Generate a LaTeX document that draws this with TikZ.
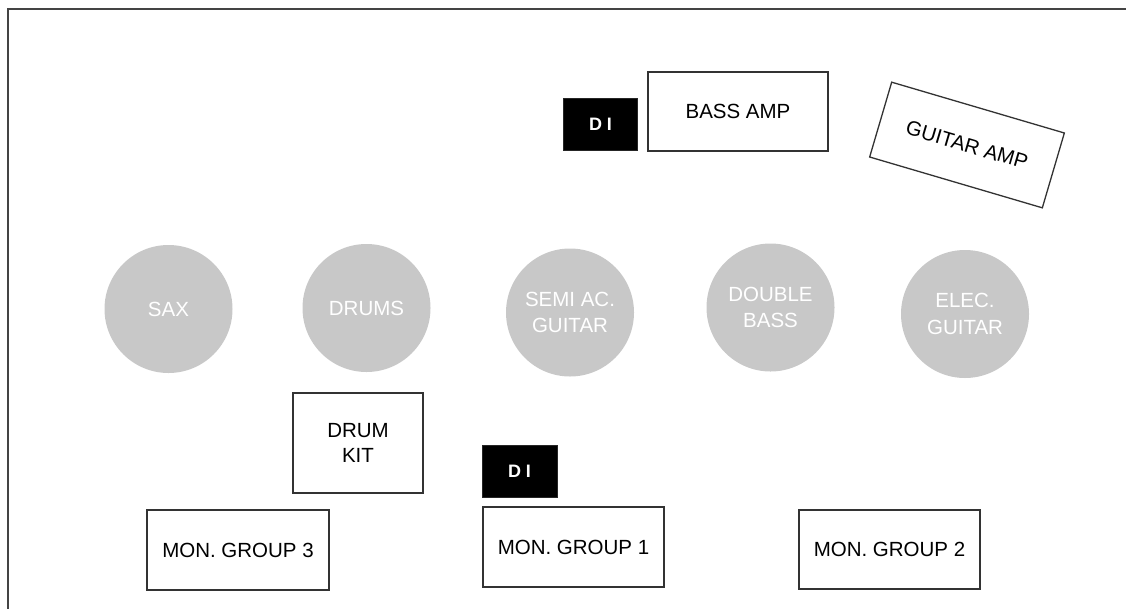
\documentclass[tikz,border=0pt]{standalone}
\usepackage{fontspec}
\setmainfont{Liberation Sans}
\definecolor{musician}{HTML}{C8C8C8}
\definecolor{edge}{HTML}{333333}
\definecolor{framegray}{HTML}{444444}
\tikzset{
  gear/.style={draw=edge, line width=1.3pt, fill=white, inner sep=0pt, align=center,
    font=\fontsize{20.5}{25.5}\selectfont},
  dibox/.style={fill=black, draw=black!85, line width=0.8pt, inner sep=0pt,
    minimum width=74pt, minimum height=52pt, text=white,
    font=\fontsize{18}{22}\selectfont\bfseries},
  player/.style={circle, fill=musician, minimum size=128pt, inner sep=0pt, align=center,
    text=white, font=\fontsize{20.5}{26.5}\selectfont},
}
\begin{document}
\begin{tikzpicture}[x=1pt, y=-1pt]
\useasboundingbox (0,0) rectangle (1126,608);
% stage outline (runs off the page on the right and at the bottom)
\draw[framegray, line width=2pt] (7.5,620) -- (7.5,9) -- (1140,9);

% backline
\node[dibox] (ditop) at (600.5,124) {D I};
\node[gear, minimum width=180pt, minimum height=79pt] (bassamp) at (738,111.5) {BASS AMP};
\node[gear, minimum width=180pt, minimum height=78pt, rotate=-16.4] (gtramp) at (967,145) {GUITAR AMP};

% musicians
\node[player] (sax) at (168.5,309) {SAX};
\node[player] (drums) at (366.5,308) {DRUMS};
\node[player] (semi) at (570,312.5) {SEMI AC.\\GUITAR};
\node[player] (dbass) at (770.5,307.5) {DOUBLE\\BASS};
\node[player] (elec) at (965,314) {ELEC.\\GUITAR};

% front of stage
\node[gear, minimum width=130pt, minimum height=100pt] (drumkit) at (358,443) {DRUM\\KIT};
\node[dibox, minimum width=75pt] (dibottom) at (519.5,471) {D I};
\node[gear, minimum width=182pt, minimum height=80pt] (mon3) at (238,550) {MON. GROUP 3};
\node[gear, minimum width=181pt, minimum height=80pt] (mon1) at (573.5,547) {MON. GROUP 1};
\node[gear, minimum width=181pt, minimum height=79pt] (mon2) at (889.5,549.5) {MON. GROUP 2};
\end{tikzpicture}
\end{document}
